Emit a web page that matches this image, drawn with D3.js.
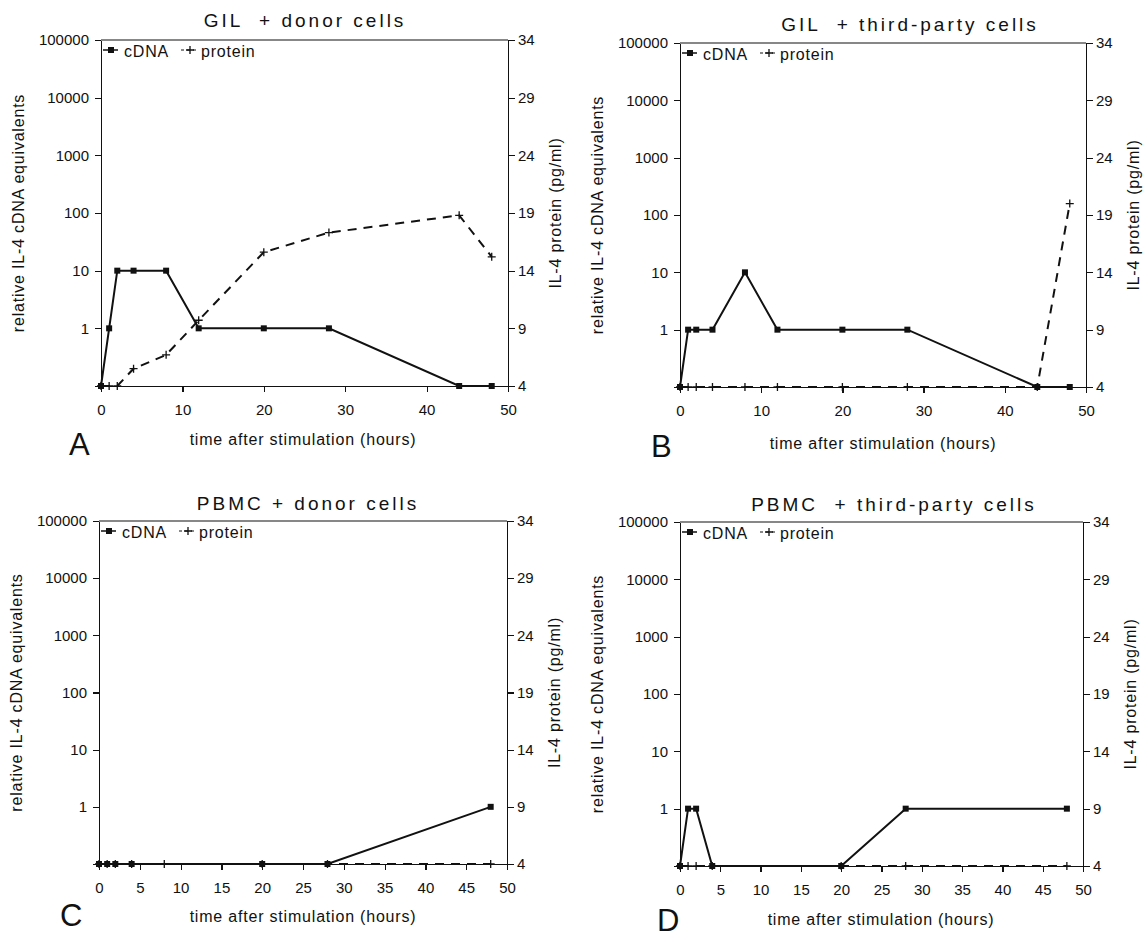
<!DOCTYPE html>
<html>
<head>
<meta charset="utf-8">
<title>IL-4 cDNA and protein after stimulation</title>
<script src="https://cdn.jsdelivr.net/npm/d3@7"></script>
<style>
  body { margin: 0; background: #fff; }
  svg { display: block; font-family: "Liberation Sans", Arial, sans-serif; }
  .axis path, .axis line { stroke: #111; stroke-width: 1.2; shape-rendering: crispEdges; }
  .axis text { font-size: 15px; fill: #111; font-family: "Liberation Sans", Arial, sans-serif; }
  .title { font-size: 19px; letter-spacing: 3px; white-space: pre; fill: #111; }
  .label { font-size: 16px; letter-spacing: 0.8px; fill: #111; }
  .letter { font-size: 31px; fill: #111; }
</style>
</head>
<body>
<svg id="chart" width="1146" height="938"></svg>
<script>
// ---- data ----
const panelTitles = ['GIL  + donor cells', 'GIL  + third-party cells', 'PBMC + donor cells', 'PBMC  + third-party cells'];
const panelLetters = ['A', 'B', 'C', 'D'];

// left axis (log, cDNA equivalents); 0.1 is the unlabeled "none detected" floor
const cdnaTicks = [0.1, 1, 10, 100, 1000, 10000, 100000];
// right axis (IL-4 protein pg/ml)
const proteinTicks = [4, 9, 14, 19, 24, 29, 34];
const hourTicksTop = [0, 10, 20, 30, 40, 50];
const hourTicksBottom = [0, 5, 10, 15, 20, 25, 30, 35, 40, 45, 50];

// A: GIL + donor cells
const aCdnaHours = [0, 1, 2, 4, 8, 12, 20, 28, 44, 48];
const aCdna = [0.1, 1, 10, 10, 10, 1, 1, 1, 0.1, 0.1];
const aProteinHours = [0, 1, 2, 4, 8, 12, 20, 28, 44, 48];
const aProtein = [4, 4, 4, 5.5, 6.7, 9.7, 15.6, 17.3, 18.8, 15.2];

// B: GIL + third-party cells
const bCdnaHours = [0, 1, 2, 4, 8, 12, 20, 28, 44, 48];
const bCdna = [0.1, 1, 1, 1, 10, 1, 1, 1, 0.1, 0.1];
const bProteinHours = [0, 1, 2, 4, 8, 12, 20, 28, 44, 48];
const bProtein = [4, 4, 4, 4, 4, 4, 4, 4, 4, 20];

// C: PBMC + donor cells
const cCdnaHours = [0, 1, 2, 4, 20, 28, 48];
const cCdna = [0.1, 0.1, 0.1, 0.1, 0.1, 0.1, 1];
const cProteinHours = [0, 1, 2, 4, 8, 20, 28, 48];
const cProtein = [4, 4, 4, 4, 4, 4, 4, 4];

// D: PBMC + third-party cells
const dCdnaHours = [0, 1, 2, 4, 20, 28, 48];
const dCdna = [0.1, 1, 1, 0.1, 0.1, 1, 1];
const dProteinHours = [0, 1, 2, 4, 20, 28, 48];
const dProtein = [4, 4, 4, 4, 4, 4, 4];

// ---- layout (pixels) ----
const panels = [
  { left: 101, right: 508, top: 40, bottom: 386, titleX: 305, titleY: 27, letterX: 69, letterY: 455, xLabelX: 303, xLabelY: 445,
    hourTicks: hourTicksTop, cdnaHours: aCdnaHours, cdna: aCdna, proteinHours: aProteinHours, protein: aProtein },
  { left: 680, right: 1086, top: 43, bottom: 387, titleX: 910, titleY: 31, letterX: 651, letterY: 457, xLabelX: 883, xLabelY: 449,
    hourTicks: hourTicksTop, cdnaHours: bCdnaHours, cdna: bCdna, proteinHours: bProteinHours, protein: bProtein },
  { left: 99, right: 507, top: 521, bottom: 864, titleX: 308, titleY: 510, letterX: 60, letterY: 926, xLabelX: 303, xLabelY: 922,
    hourTicks: hourTicksBottom, cdnaHours: cCdnaHours, cdna: cCdna, proteinHours: cProteinHours, protein: cProtein },
  { left: 680, right: 1083, top: 522, bottom: 866, titleX: 894, titleY: 511, letterX: 657, letterY: 931, xLabelX: 881, xLabelY: 925,
    hourTicks: hourTicksBottom, cdnaHours: dCdnaHours, cdna: dCdna, proteinHours: dProteinHours, protein: dProtein }
];

const svg = d3.select('#chart');

function drawPanel(p, i) {
  const g = svg.append('g');

  const x = d3.scaleLinear().domain([0, 50]).range([p.left, p.right]);
  const yLog = d3.scaleLog().domain([0.1, 100000]).range([p.bottom, p.top]);
  const yLin = d3.scaleLinear().domain([4, 34]).range([p.bottom, p.top]);

  // frame top line
  g.append('line')
    .attr('x1', p.left).attr('x2', p.right)
    .attr('y1', p.top).attr('y2', p.top)
    .attr('stroke', '#111').attr('stroke-width', 1.2);

  // axes
  g.append('g')
    .attr('class', 'axis')
    .attr('transform', `translate(${p.left},0)`)
    .call(d3.axisLeft(yLog)
      .tickValues(cdnaTicks)
      .tickFormat(d => d < 1 ? '' : String(d))
      .tickSize(6).tickSizeOuter(0).tickPadding(6));

  g.append('g')
    .attr('class', 'axis')
    .attr('transform', `translate(${p.right},0)`)
    .call(d3.axisRight(yLin)
      .tickValues(proteinTicks)
      .tickSize(7).tickSizeOuter(0).tickPadding(3));

  g.append('g')
    .attr('class', 'axis')
    .attr('transform', `translate(0,${p.bottom})`)
    .call(d3.axisBottom(x)
      .tickValues(p.hourTicks)
      .tickSize(6).tickSizeOuter(0).tickPadding(12));

  // axis titles
  g.append('text')
    .attr('class', 'label')
    .attr('text-anchor', 'middle')
    .attr('x', p.xLabelX).attr('y', p.xLabelY)
    .text('time after stimulation (hours)');

  const midY = (p.top + p.bottom) / 2;
  g.append('text')
    .attr('class', 'label')
    .attr('text-anchor', 'middle')
    .attr('transform', `translate(${p.left - 77},${midY}) rotate(-90)`)
    .text('relative IL-4 cDNA equivalents');

  g.append('text')
    .attr('class', 'label')
    .attr('text-anchor', 'middle')
    .attr('transform', `translate(${p.right + 53},${midY}) rotate(-90)`)
    .text('IL-4 protein (pg/ml)');

  // panel title and letter
  g.append('text')
    .attr('class', 'title')
    .attr('text-anchor', 'middle')
    .attr('x', p.titleX).attr('y', p.titleY)
    .text(panelTitles[i]);

  g.append('text')
    .attr('class', 'letter')
    .attr('x', p.letterX).attr('y', p.letterY)
    .text(panelLetters[i]);

  // series
  const cdnaPts = p.cdnaHours.map((t, k) => ({ t, v: p.cdna[k] }));
  const protPts = p.proteinHours.map((t, k) => ({ t, v: p.protein[k] }));

  g.append('path')
    .datum(protPts)
    .attr('fill', 'none')
    .attr('stroke', '#111')
    .attr('stroke-width', 2)
    .attr('stroke-dasharray', '9 7')
    .attr('d', d3.line().x(d => x(d.t)).y(d => yLin(d.v)));

  g.append('path')
    .datum(cdnaPts)
    .attr('fill', 'none')
    .attr('stroke', '#111')
    .attr('stroke-width', 2)
    .attr('d', d3.line().x(d => x(d.t)).y(d => yLog(d.v)));

  g.selectAll('.sq')
    .data(cdnaPts)
    .enter()
    .append('rect')
    .attr('class', 'sq')
    .attr('x', d => x(d.t) - 3)
    .attr('y', d => yLog(d.v) - 3)
    .attr('width', 6).attr('height', 6)
    .attr('fill', '#111');

  g.selectAll('.plus')
    .data(protPts)
    .enter()
    .append('path')
    .attr('class', 'plus')
    .attr('transform', d => `translate(${x(d.t)},${yLin(d.v)})`)
    .attr('d', 'M-4,0H4M0,-4V4')
    .attr('stroke', '#111')
    .attr('stroke-width', 1.3);

  // legend in the top-left corner
  const lg = g.append('g').attr('transform', `translate(${p.left},${p.top})`);
  lg.append('line').attr('x1', 2).attr('x2', 17).attr('y1', 10).attr('y2', 10)
    .attr('stroke', '#111').attr('stroke-width', 1.5);
  lg.append('rect').attr('x', 7).attr('y', 7).attr('width', 6).attr('height', 6).attr('fill', '#111');
  lg.append('text').attr('class', 'label').attr('x', 23).attr('y', 17).text('cDNA');
  lg.append('line').attr('x1', 80).attr('x2', 97).attr('y1', 10).attr('y2', 10)
    .attr('stroke', '#111').attr('stroke-width', 1).attr('stroke-dasharray', '3 3');
  lg.append('path').attr('transform', 'translate(89,10)').attr('d', 'M-4,0H4M0,-4V4')
    .attr('stroke', '#111').attr('stroke-width', 1.3);
  lg.append('text').attr('class', 'label').attr('x', 100).attr('y', 17).text('protein');
}

panels.forEach(drawPanel);
</script>
</body>
</html>
